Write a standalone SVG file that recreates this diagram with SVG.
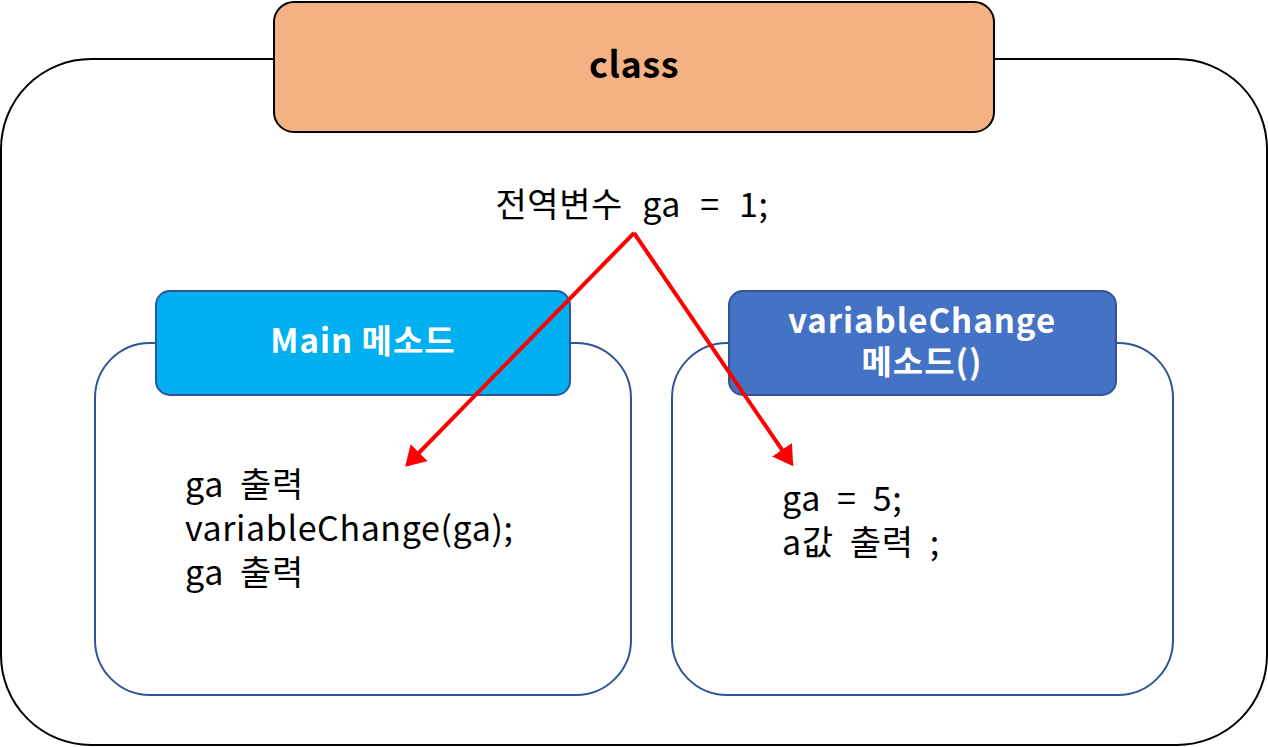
<svg xmlns="http://www.w3.org/2000/svg" width="1268" height="747" viewBox="0 0 1268 747">
<style>
.t{font-family:"Noto Sans CJK KR","Noto Sans",sans-serif;fill:#000;font-size:34px;word-spacing:8px;letter-spacing:0.6px;}
.h{font-family:"Noto Sans CJK KR","Noto Sans",sans-serif;font-weight:bold;fill:#fff;text-anchor:middle;font-size:33px;letter-spacing:1px;}
.box{stroke:#2F5597;stroke-width:2;}
</style>
<defs>
<marker id="ah" markerWidth="6" markerHeight="6" refX="4" refY="3" orient="auto" markerUnits="strokeWidth">
<path d="M0,0 L5,3 L0,6 z" fill="#FF0000"/>
</marker>
</defs>
<g id="outer">
<rect x="1" y="59" width="1266" height="686" rx="90" fill="#fff" stroke="#000" stroke-width="2"/>
</g>
<g id="class">
<rect x="274" y="2" width="720" height="130" rx="20" fill="#F4B183" stroke="#000" stroke-width="2"/>
<text x="634" y="78" class="t" font-weight="bold" text-anchor="middle" style="font-size:36px">class</text>
</g>
<g id="global">
<text x="632" y="217" class="t" text-anchor="middle" style="word-spacing:11px">전역변수 ga = 1;</text>
</g>
<g id="main">
<rect x="95" y="343" width="536" height="352" rx="55" fill="#fff" class="box"/>
<rect x="156" y="291" width="414" height="104" rx="14" fill="#00B0F0" class="box"/>
<text x="363" y="353" class="h">Main 메소드</text>
<text x="185" y="497" class="t">ga 출력</text>
<text x="185" y="541" class="t">variableChange(ga);</text>
<text x="185" y="585" class="t">ga 출력</text>
</g>
<g id="variableChange">
<rect x="672" y="343" width="501" height="352" rx="55" fill="#fff" class="box"/>
<rect x="729" y="291" width="387" height="104" rx="14" fill="#4472C4" class="box"/>
<text x="922" y="333" class="h">variableChange</text>
<text x="922" y="374" class="h">메소드()</text>
<text x="782" y="511" class="t">ga = 5;</text>
<text x="782" y="555" class="t">a값 출력 ;</text>
</g>
<g id="connectors" stroke="#FF0000" stroke-width="4" fill="none">
<line x1="634" y1="233" x2="408" y2="464" marker-end="url(#ah)"/>
<line x1="634" y1="233" x2="791" y2="463" marker-end="url(#ah)"/>
</g>
</svg>
